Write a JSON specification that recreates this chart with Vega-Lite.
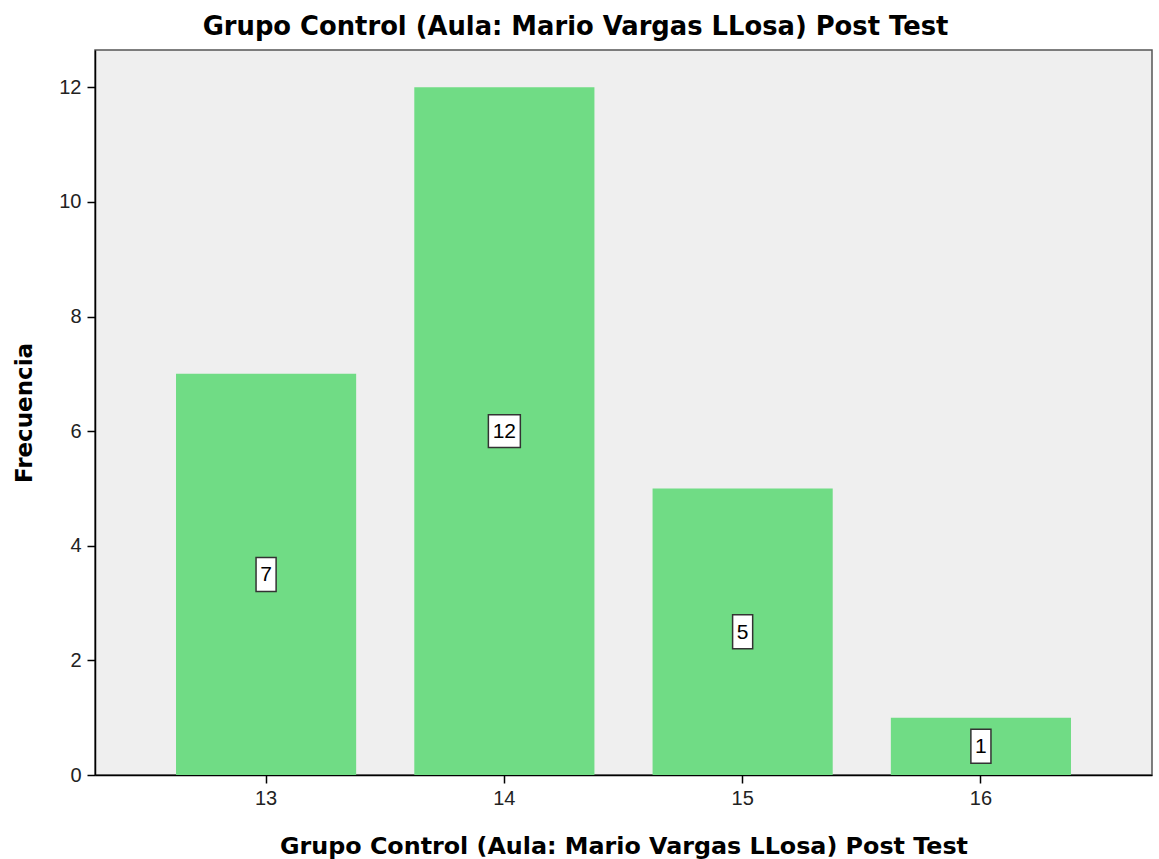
{
  "$schema": "https://vega.github.io/schema/vega-lite/v6.json",
  "width": 1057,
  "height": 725,
  "autosize": {"type": "none"},
  "padding": {"left": 95, "top": 50, "right": 7, "bottom": 84},
  "background": "white",
  "config": {
    "font": "DejaVu Sans",
    "view": {"fill": "#EFEFEF", "stroke": "#555555", "strokeWidth": 1.5},
    "axis": {"grid": false, "domainColor": "#000000", "domainWidth": 1.5, "tickColor": "#000000", "tickWidth": 1.5, "tickSize": 8, "labelFont": "Liberation Sans", "labelFontSize": 20, "labelColor": "#222222", "titleFont": "DejaVu Sans", "titleFontWeight": "bold", "titleColor": "#000000"}
  },
  "title": {"text": "Grupo Control (Aula: Mario Vargas LLosa) Post Test", "font": "DejaVu Sans", "fontSize": 25.8, "fontWeight": "bold", "color": "#000000", "anchor": "middle", "dx": -48, "offset": 9},
  "data": {"values": [
    {"puntaje": "13", "frecuencia": 7},
    {"puntaje": "14", "frecuencia": 12},
    {"puntaje": "15", "frecuencia": 5},
    {"puntaje": "16", "frecuencia": 1}
  ]},
  "encoding": {
    "x": {"field": "puntaje", "type": "ordinal", "sort": null,
      "scale": {"paddingInner": 0.244, "paddingOuter": 0.34},
      "axis": {"title": "Grupo Control (Aula: Mario Vargas LLosa) Post Test", "titleFontSize": 23.8, "labelAngle": 0, "labelPadding": 5, "titlePadding": 26}}
  },
  "layer": [
    {
      "mark": {"type": "bar", "color": "#70DC85"},
      "encoding": {
        "y": {"field": "frecuencia", "type": "quantitative",
          "scale": {"domain": [0, 12.65], "nice": false},
          "axis": {"title": "Frecuencia", "titleFontSize": 23, "format": "d", "values": [0, 2, 4, 6, 8, 10, 12], "labelPadding": 6, "titlePadding": 22}}
      }
    },
    {
      "transform": [{"calculate": "datum.frecuencia / 2", "as": "mitad"}],
      "mark": {"type": "point", "filled": true, "fill": "white", "stroke": "#333333", "strokeWidth": 1.5, "opacity": 1, "size": 1156},
      "encoding": {
        "y": {"field": "mitad", "type": "quantitative"},
        "shape": {"condition": {"test": "datum.frecuencia >= 10", "value": "M-0.94,-0.97H0.94V0.97H-0.94Z"}, "value": "M-0.59,-1H0.59V1H-0.59Z"}
      }
    },
    {
      "transform": [{"calculate": "datum.frecuencia / 2", "as": "mitad"}],
      "mark": {"type": "text", "fontSize": 21, "color": "#000000", "font": "Liberation Sans", "baseline": "middle", "align": "center", "dy": 1},
      "encoding": {
        "y": {"field": "mitad", "type": "quantitative"},
        "text": {"field": "frecuencia", "type": "quantitative"}
      }
    }
  ]
}
